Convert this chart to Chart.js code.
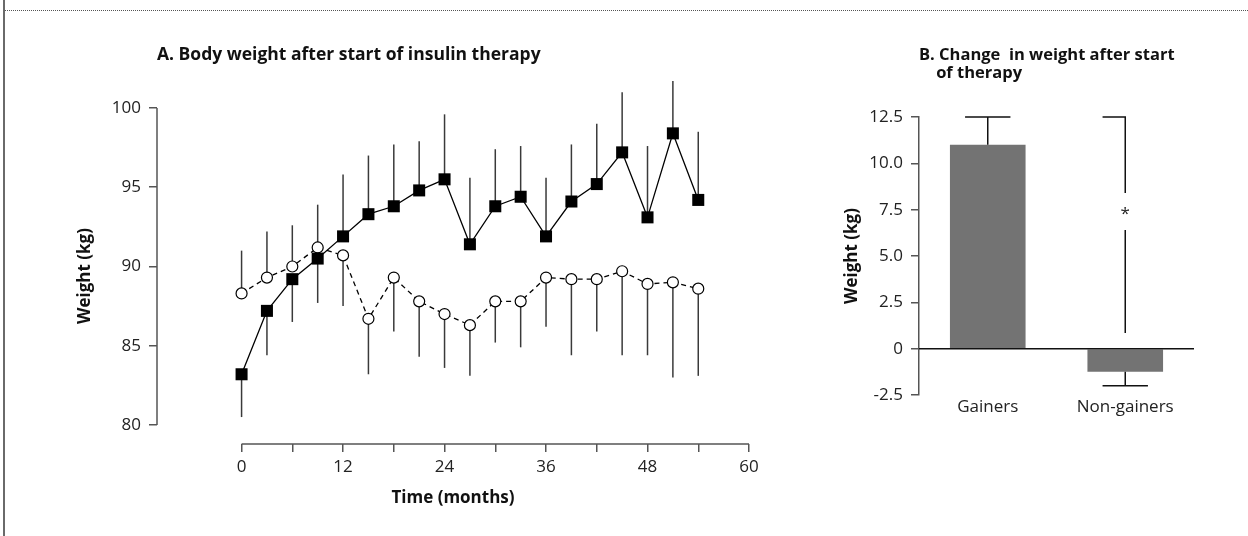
<!DOCTYPE html>
<html>
<head>
<meta charset="utf-8">
<script src="https://cdn.jsdelivr.net/npm/chart.js@4.4.1/dist/chart.umd.min.js"></script>
<style>
  html, body { margin: 0; padding: 0; background: #fff; }
  body { width: 1248px; height: 536px; position: relative; overflow: hidden; }
  .frame-left { position: absolute; left: 3px; top: 0; height: 536px; border-left: 2px solid #6a6a6a; }
  .frame-top { position: absolute; left: 5px; right: 0; top: 10px; border-top: 1px dotted #555; }
  #chart-a { position: absolute; left: 0; top: 0; }
  #chart-b { position: absolute; left: 780px; top: 0; }
</style>
</head>
<body>
<div class="frame-left"></div>
<div class="frame-top"></div>
<canvas id="chart-a" width="780" height="536"></canvas>
<canvas id="chart-b" width="468" height="536"></canvas>
<script>
// PANEL A data (months after start of insulin)
const months = [0, 3, 6, 9, 12, 15, 18, 21, 24, 27, 30, 33, 36, 39, 42, 45, 48, 51, 54];
const gainersMean = [83.2, 87.2, 89.2, 90.5, 91.9, 93.3, 93.8, 94.8, 95.5, 91.4, 93.8, 94.4, 91.9, 94.1, 95.2, 97.2, 93.1, 98.4, 94.2];
const gainersErr = [80.5, 84.4, 86.5, 87.7, 95.8, 97.0, 97.7, 97.9, 99.6, 95.6, 97.4, 97.6, 95.6, 97.7, 99.0, 101.0, 97.6, 101.7, 98.5];
const othersMean = [88.3, 89.3, 90.0, 91.2, 90.7, 86.7, 89.3, 87.8, 87.0, 86.3, 87.8, 87.8, 89.3, 89.2, 89.2, 89.7, 88.9, 89.0, 88.6];
const othersErr = [91.0, 92.2, 92.6, 93.9, 87.5, 83.2, 85.9, 84.3, 83.6, 83.1, 85.2, 84.9, 86.2, 84.4, 85.9, 84.4, 84.4, 83.0, 83.1];
const weightTicks = [80, 85, 90, 95, 100];
const monthTicks = [0, 6, 12, 18, 24, 30, 36, 42, 48, 54, 60];

// PANEL B data
const groups = ['Gainers', 'Non-gainers'];
const weightChange = [11.0, -1.25];
const weightChangeErr = [12.5, -2.0];
const changeTicks = [-2.5, 0, 2.5, 5.0, 7.5, 10.0, 12.5];
// significance bracket over non-gainers: top, gap around the star, bottom
const sigTop = 12.5;
const sigGapHigh = 8.4;
const sigStar = 7.5;
const sigGapLow = 6.4;
const sigBottom = 0.85;

Chart.defaults.font.family = '"Open Sans", sans-serif';
Chart.defaults.color = '#222';

const axisColor = '#555';

// error bars drawn from each point out to its errorTo value
const errorBars = {
  id: 'errorBars',
  beforeDatasetsDraw(chart) {
    const ctx = chart.ctx;
    const y = chart.scales.y;
    ctx.save();
    ctx.strokeStyle = '#3a3a3a';
    ctx.lineWidth = 1.5;
    chart.data.datasets.forEach((ds, i) => {
      chart.getDatasetMeta(i).data.forEach((pt, j) => {
        ctx.beginPath();
        ctx.moveTo(pt.x, pt.y);
        ctx.lineTo(pt.x, y.getPixelForValue(ds.errorTo[j]));
        ctx.stroke();
      });
    });
    ctx.restore();
  }
};

// detached axis lines, only over the tick range
const openAxes = {
  id: 'openAxes',
  beforeDatasetsDraw(chart) {
    const {ctx, chartArea, scales} = chart;
    ctx.save();
    ctx.strokeStyle = axisColor;
    ctx.lineWidth = 1.5;
    ctx.beginPath();
    ctx.moveTo(chartArea.left, scales.y.getPixelForValue(weightTicks[0]));
    ctx.lineTo(chartArea.left, scales.y.getPixelForValue(weightTicks[weightTicks.length - 1]));
    ctx.moveTo(scales.x.getPixelForValue(monthTicks[0]), chartArea.bottom);
    ctx.lineTo(scales.x.getPixelForValue(monthTicks[monthTicks.length - 1]), chartArea.bottom);
    ctx.stroke();
    ctx.restore();
  }
};

const ctxA = document.getElementById('chart-a').getContext('2d');
const chartA = new Chart(ctxA, {
  type: 'line',
  data: {
    datasets: [
      {
        label: 'Gainers',
        data: months.map((m, i) => ({x: m, y: gainersMean[i]})),
        errorTo: gainersErr,
        borderColor: '#000',
        borderWidth: 1.3,
        pointStyle: 'rect',
        pointRadius: 8.5,
        pointBackgroundColor: '#000',
        pointBorderColor: '#000',
        pointBorderWidth: 0
      },
      {
        label: 'Non-gainers',
        data: months.map((m, i) => ({x: m, y: othersMean[i]})),
        errorTo: othersErr,
        borderColor: '#000',
        borderWidth: 1.3,
        borderDash: [5, 4],
        pointStyle: 'circle',
        pointRadius: 5.5,
        pointBackgroundColor: '#fff',
        pointBorderColor: '#000',
        pointBorderWidth: 1.2
      }
    ]
  },
  options: {
    responsive: false,
    animation: false,
    layout: { padding: { right: 31 } },
    plugins: {
      legend: { display: false },
      tooltip: { enabled: false },
      title: {
        display: true,
        text: 'A. Body weight after start of insulin therapy',
        align: 'start',
        fullSize: false,
        color: '#111',
        font: { size: 17.5, weight: 'bold', lineHeight: 1.2 },
        padding: { top: 44.5, bottom: 42.5 }
      }
    },
    scales: {
      x: {
        type: 'linear',
        min: -10,
        max: 60,
        afterBuildTicks: (s) => { s.ticks = monthTicks.map(v => ({value: v})); },
        afterFit: (s) => { s.height = 92; },
        border: { display: false },
        grid: { drawOnChartArea: false, tickLength: 8, color: axisColor, lineWidth: 1.5 },
        ticks: {
          autoSkip: false,
          maxRotation: 0,
          padding: 5,
          font: { size: 17 },
          callback: (v) => (v % 12 === 0 ? v : '')
        },
        title: {
          display: true,
          text: 'Time (months)',
          color: '#111',
          font: { size: 17, weight: 'bold' },
          padding: { bottom: 28 }
        }
      },
      y: {
        min: 78.8,
        max: 100,
        afterBuildTicks: (s) => { s.ticks = weightTicks.map(v => ({value: v})); },
        afterFit: (s) => { s.width = 157; },
        border: { display: false },
        grid: { drawOnChartArea: false, tickLength: 8, color: axisColor, lineWidth: 1.5 },
        ticks: { padding: 8, font: { size: 17 } },
        title: {
          display: true,
          text: 'Weight (kg)',
          color: '#111',
          font: { size: 17, weight: 'bold' },
          padding: { top: 75 }
        }
      }
    }
  },
  plugins: [errorBars, openAxes]
});

// PANEL B: zero line, error bars with caps, significance bracket
const barExtras = {
  id: 'barExtras',
  afterDatasetsDraw(chart) {
    const {ctx, chartArea, scales} = chart;
    const y = scales.y;
    const bars = chart.getDatasetMeta(0).data;
    ctx.save();
    ctx.strokeStyle = '#111';
    ctx.lineWidth = 1.5;
    ctx.beginPath();
    ctx.moveTo(chartArea.left, y.getPixelForValue(0));
    ctx.lineTo(chartArea.right, y.getPixelForValue(0));
    bars.forEach((bar, i) => {
      const cap = bar.width * 0.3;
      const yEnd = y.getPixelForValue(weightChangeErr[i]);
      ctx.moveTo(bar.x, bar.y);
      ctx.lineTo(bar.x, yEnd);
      ctx.moveTo(bar.x - cap, yEnd);
      ctx.lineTo(bar.x + cap, yEnd);
    });
    const nb = bars[1];
    const capN = nb.width * 0.3;
    ctx.moveTo(nb.x - capN, y.getPixelForValue(sigTop));
    ctx.lineTo(nb.x, y.getPixelForValue(sigTop));
    ctx.lineTo(nb.x, y.getPixelForValue(sigGapHigh));
    ctx.moveTo(nb.x, y.getPixelForValue(sigGapLow));
    ctx.lineTo(nb.x, y.getPixelForValue(sigBottom));
    ctx.stroke();
    ctx.fillStyle = '#222';
    ctx.font = '17px "Open Sans", sans-serif';
    ctx.textAlign = 'center';
    ctx.textBaseline = 'middle';
    ctx.fillText('*', nb.x, y.getPixelForValue(sigStar) + 4);
    ctx.restore();
  }
};

const ctxB = document.getElementById('chart-b').getContext('2d');
const chartB = new Chart(ctxB, {
  type: 'bar',
  data: {
    labels: groups,
    datasets: [{
      label: 'Change in weight',
      data: weightChange,
      backgroundColor: '#737373',
      borderWidth: 0,
      categoryPercentage: 1,
      barPercentage: 0.55
    }]
  },
  options: {
    responsive: false,
    animation: false,
    layout: { padding: { right: 54 } },
    plugins: {
      legend: { display: false },
      tooltip: { enabled: false },
      title: {
        display: true,
        text: ['B. Change  in weight after start', '    of therapy'],
        align: 'start',
        fullSize: false,
        color: '#111',
        font: { size: 16.5, weight: 'bold', lineHeight: 1.1 },
        padding: { top: 46, bottom: 34.7 }
      }
    },
    scales: {
      x: {
        afterFit: (s) => { s.height = 141; },
        border: { display: false },
        grid: { display: false, drawTicks: false },
        ticks: { padding: 2, font: { size: 17 } }
      },
      y: {
        min: -2.5,
        max: 12.5,
        afterBuildTicks: (s) => { s.ticks = changeTicks.map(v => ({value: v})); },
        afterFit: (s) => { s.width = 139; },
        border: { display: true, color: axisColor, width: 1.5 },
        grid: { drawOnChartArea: false, tickLength: 8, color: axisColor, lineWidth: 1.5 },
        ticks: {
          padding: 8,
          font: { size: 17 },
          callback: (v) => (v === 0 ? '0' : v.toFixed(1))
        },
        title: {
          display: true,
          text: 'Weight (kg)',
          color: '#111',
          font: { size: 17, weight: 'bold' },
          padding: { top: 62 }
        }
      }
    }
  },
  plugins: [barExtras]
});
</script>
</body>
</html>
